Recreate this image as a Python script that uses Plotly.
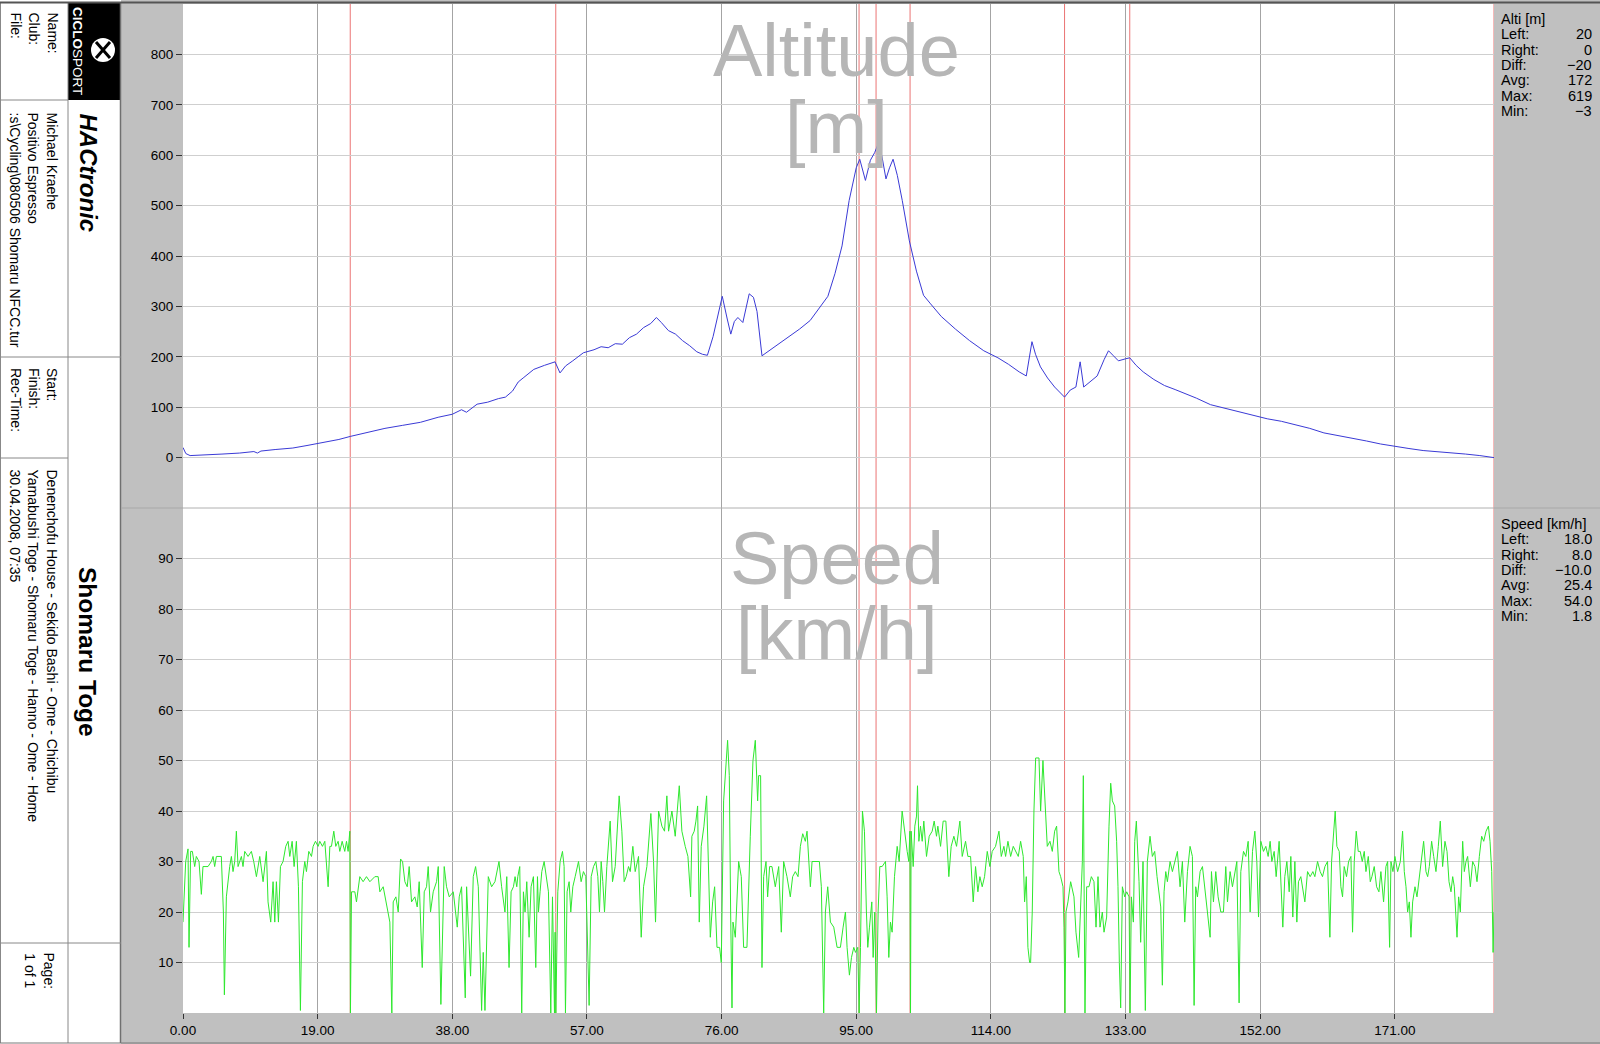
import plotly.graph_objects as go

# ---------------- data ----------------
altitude_profile = [
    (0.0, 20), (0.4, 8), (1.0, 4), (3.0, 6), (5.5, 7), (8.0, 9), (10.0, 12), (10.5, 9), (11.0, 13),
    (13.0, 16), (15.5, 19), (17.5, 24), (20.0, 30), (22.0, 36), (23.6, 42), (26.0, 50), (28.5, 58),
    (31.0, 64), (33.5, 70), (36.0, 80), (38.0, 86), (39.3, 95), (40.0, 90), (41.5, 106), (43.0, 110),
    (44.5, 117), (45.5, 120), (46.5, 132), (47.3, 150), (48.0, 158), (49.5, 175), (51.0, 183),
    (52.5, 190), (53.2, 168), (54.0, 182), (55.0, 192), (56.5, 208), (58.0, 214), (59.0, 220),
    (60.0, 218), (61.0, 226), (62.0, 225), (63.0, 238), (64.0, 245), (65.0, 258), (66.0, 266),
    (66.8, 278), (67.5, 268), (68.5, 252), (69.5, 245), (70.5, 232), (71.5, 222), (72.5, 210),
    (73.3, 205), (74.0, 203), (74.8, 240), (75.5, 280), (76.1, 320), (76.8, 275), (77.3, 245),
    (77.8, 270), (78.3, 278), (79.0, 268), (79.5, 300), (79.9, 325), (80.5, 318), (81.0, 290),
    (81.7, 202), (83.0, 215), (85.0, 236), (87.0, 255), (88.5, 272), (90.0, 300), (91.0, 320),
    (92.0, 365), (93.0, 420), (94.0, 510), (95.0, 575), (95.5, 592), (96.3, 550), (97.0, 590),
    (97.6, 605), (98.0, 619), (98.6, 600), (99.2, 553), (99.7, 575), (100.2, 592), (100.8, 560),
    (101.5, 510), (102.5, 430), (103.5, 370), (104.5, 322), (105.5, 305), (107.0, 280), (109.0, 255),
    (111.0, 232), (113.0, 212), (115.0, 198), (116.5, 185), (118.0, 170), (119.0, 162), (119.8, 230),
    (120.3, 205), (121.0, 180), (122.0, 158), (123.0, 140), (124.4, 120), (125.2, 134), (126.0, 140),
    (126.6, 190), (127.1, 140), (128.0, 150), (129.0, 162), (130.0, 195), (130.6, 212), (131.3, 202),
    (132.0, 192), (133.0, 196), (133.6, 198), (134.5, 183), (135.5, 170), (137.0, 155), (138.5, 143),
    (140.0, 135), (141.5, 127), (143.0, 118), (145.0, 105), (147.0, 98), (149.0, 91), (151.0, 83),
    (153.0, 77), (155.0, 72), (157.0, 65), (159.0, 58), (161.0, 49), (163.0, 44), (165.0, 39),
    (167.0, 33), (169.0, 27), (171.0, 22), (173.0, 18), (175.0, 14), (177.0, 12), (179.0, 9),
    (181.0, 7), (183.0, 4), (185.0, 0),
]

speed_profile = [
    (0.00, 18), (0.38, 30), (0.71, 32.5), (0.85, 13), (1.08, 32), (1.32, 32), (1.65, 29), (1.88, 31),
    (2.26, 30), (2.59, 23.5), (2.82, 29), (3.53, 29), (4.00, 30), (4.24, 31), (4.47, 29), (4.71, 31),
    (5.41, 31), (5.70, 20), (5.84, 3.6), (6.12, 23), (6.59, 29), (6.83, 31), (7.06, 28), (7.30, 30),
    (7.53, 36), (7.77, 29), (8.24, 31), (8.47, 29), (8.71, 32), (9.18, 31), (9.65, 32), (9.98, 30),
    (10.36, 27), (10.83, 31), (11.30, 26), (11.77, 32), (12.00, 22), (12.38, 18), (12.71, 26),
    (12.95, 18), (13.18, 26), (13.47, 18), (13.75, 29), (14.12, 30), (14.50, 33), (14.83, 34),
    (15.07, 31), (15.40, 34), (15.68, 29), (16.00, 34), (16.29, 25), (16.57, 0.5), (16.85, 26),
    (17.18, 30), (17.42, 28), (17.75, 32), (18.13, 31), (18.36, 33), (18.69, 34), (19.07, 33),
    (19.30, 34), (19.68, 33), (20.01, 34), (20.48, 25), (20.72, 33), (20.95, 33), (21.28, 36),
    (21.56, 33), (21.89, 34), (22.13, 32), (22.46, 34), (22.83, 32), (23.07, 34), (23.30, 32),
    (23.54, 36), (23.63, 0), (23.78, 24), (24.25, 24), (24.48, 22), (24.95, 27), (25.42, 26),
    (25.89, 27), (26.37, 26), (27.07, 27), (27.54, 27), (27.78, 24), (28.25, 25), (28.63, 22),
    (28.95, 20), (29.19, 18), (29.47, 0), (29.66, 22), (30.04, 23), (30.37, 20), (30.70, 30.5),
    (30.98, 30), (31.31, 26), (31.64, 25), (31.92, 29), (32.25, 22), (32.72, 23), (33.05, 21),
    (33.33, 26), (33.76, 9), (34.04, 24), (34.37, 25), (34.60, 29), (34.93, 20), (35.31, 24),
    (35.78, 26), (36.02, 29), (36.39, 1.7), (36.86, 29), (37.19, 25), (37.57, 23), (38.14, 24),
    (38.70, 17), (38.98, 23), (39.31, 25), (39.64, 12.6), (39.83, 3), (40.02, 25), (40.58, 7.3),
    (40.96, 27), (41.29, 29), (41.67, 25), (42.14, 0.5), (42.37, 12), (42.61, 0.5), (43.08, 27),
    (43.55, 25), (44.02, 26), (44.59, 30), (44.96, 25), (45.43, 20),
    (45.69, 27), (46.01, 9), (46.30, 24), (46.63, 25), (46.86, 27), (47.10, 25), (47.24, 27),
    (47.52, 29), (47.80, 0), (48.04, 24), (48.27, 20), (48.51, 26), (48.84, 15), (49.12, 25),
    (49.45, 27), (49.78, 9), (50.02, 27), (50.16, 20), (50.39, 24), (50.63, 28), (50.96, 30),
    (51.29, 27), (51.57, 24), (51.90, 0), (52.14, 23), (52.42, 0), (52.51, 16), (52.61, 0),
    (52.89, 24), (53.22, 30), (53.55, 32), (53.78, 29), (53.97, 0), (54.20, 24), (54.49, 26),
    (54.72, 20), (55.01, 25), (55.34, 27), (55.81, 30), (56.18, 26), (56.51, 28), (56.84, 27),
    (57.13, 12), (57.31, 1.5), (57.60, 27), (57.93, 29), (58.26, 30), (58.54, 27), (58.77, 20),
    (59.01, 30), (59.24, 26), (59.48, 20), (59.81, 29), (60.28, 38), (60.61, 26), (60.99, 29),
    (61.55, 43), (61.93, 36), (62.26, 26), (62.54, 27), (62.87, 29), (63.11, 28), (63.48, 33),
    (63.81, 28), (64.28, 31), (64.66, 15), (64.99, 25), (65.46, 29), (66.02, 39.5), (66.40, 30),
    (66.68, 18), (67.11, 40), (67.58, 37), (67.95, 36), (68.28, 43), (68.52, 36), (68.99, 40),
    (69.46, 35), (70.03, 45), (70.40, 36), (70.87, 33), (71.25, 31), (71.63, 23), (71.81, 35),
    (72.14, 36), (72.38, 38), (72.62, 41), (72.85, 18), (73.13, 33), (73.51, 37), (73.89, 43),
    (74.17, 30), (74.41, 15), (74.74, 22), (75.02, 25), (75.35, 13), (75.72, 13), (75.96, 10),
    (76.29, 42), (76.85, 54), (77.09, 47), (77.28, 20), (77.47, 1), (77.61, 18), (77.94, 15),
    (78.41, 30), (78.78, 27), (79.11, 13), (79.58, 13), (80.05, 35), (80.43, 50), (80.76, 54),
    (81.09, 42), (81.23, 47), (81.51, 47), (81.70, 9), (81.94, 27), (82.27, 30), (82.50, 23),
    (82.78, 29), (83.11, 29), (83.58, 25), (84.06, 29), (84.43, 16), (84.76, 30), (85.23, 27),
    (85.70, 23), (86.03, 27), (86.41, 28), (86.79, 27), (87.12, 33), (87.45, 35.5), (87.82, 34),
    (88.06, 36), (88.53, 25), (88.77, 30), (89.24, 30), (89.80, 30), (90.08, 25), (90.41, 0),
    (90.65, 20), (90.98, 25),
    (91.36, 18), (91.83, 17), (92.30, 13), (92.77, 13), (93.15, 17), (93.48, 20), (93.71, 13),
    (94.04, 7.5), (94.33, 11), (94.66, 13), (94.89, 12), (95.22, 13), (95.41, 0), (95.60, 13),
    (95.88, 40), (96.16, 36), (96.44, 20), (96.63, 13), (96.87, 17), (97.20, 22), (97.39, 11),
    (97.62, 20), (97.86, 0), (98.09, 20), (98.33, 29), (98.66, 29), (99.13, 30), (99.36, 23),
    (99.60, 11), (99.83, 18), (100.07, 16), (100.40, 27), (100.78, 33), (101.06, 30), (101.48, 40),
    (101.81, 36), (102.19, 32), (102.42, 30), (102.57, 36), (102.66, 0), (102.75, 36), (103.04, 29),
    (103.27, 37), (103.51, 39), (103.65, 45), (103.84, 34), (104.07, 37), (104.31, 34), (104.54, 38),
    (104.92, 31), (105.30, 35), (105.72, 36), (106.00, 38), (106.33, 35), (106.52, 37), (106.90, 33),
    (107.27, 38), (107.65, 38), (108.07, 27), (108.40, 33), (108.78, 35), (109.16, 33), (109.63, 38),
    (109.96, 31), (110.43, 34), (110.76, 31), (111.14, 31), (111.51, 22), (111.84, 29), (112.17, 24),
    (112.45, 27), (112.78, 25), (113.11, 27), (113.49, 32), (113.86, 29), (114.19, 32), (114.66, 33),
    (115.14, 36), (115.47, 31), (115.84, 33), (116.08, 31), (116.41, 34), (116.79, 31), (117.16, 33),
    (117.49, 32), (117.87, 31), (118.20, 34), (118.57, 31), (118.76, 22), (119.00, 27), (119.23, 13),
    (119.47, 10), (119.61, 10), (119.84, 20), (120.08, 40), (120.32, 50.5), (120.79, 50.5),
    (121.02, 40), (121.35, 50), (121.73, 40), (121.96, 33), (122.34, 34), (122.67, 32), (123.00, 36),
    (123.28, 37), (123.61, 28), (123.85, 27), (124.18, 25), (124.32, 17), (124.46, 0), (124.60, 20),
    (124.88, 22), (125.26, 26), (125.73, 23), (126.01, 16), (126.39, 11), (126.67, 20), (126.91, 30),
    (127.05, 47), (127.28, 0), (127.52, 25), (127.85, 25), (128.18, 27), (128.55, 26), (128.84, 17),
    (129.12, 27), (129.40, 17), (129.73, 20), (129.97, 16), (130.34, 19), (130.67, 37), (130.91, 45.5),
    (131.15, 42), (131.47, 41), (131.75, 34), (131.94, 25), (132.13, 10), (132.32, 1), (132.56, 25),
    (132.89, 23), (133.17, 24), (133.50, 23), (133.64, 0), (133.83, 23), (134.11, 18), (134.30, 34),
    (134.53, 38), (134.91, 26), (135.14, 14), (135.47, 30), (135.80, 0.5), (136.08, 30), (136.46, 35),
    (136.79, 31), (137.12, 32), (137.45, 27),
    (137.97, 21), (138.20, 5.5), (138.44, 24), (138.68, 28), (138.91, 26), (139.29, 30), (139.62, 28),
    (139.95, 30), (140.32, 32), (140.70, 25), (141.03, 30), (141.36, 18), (141.74, 28), (142.11, 33),
    (142.44, 31), (142.68, 1.5), (142.91, 25), (143.15, 23), (143.53, 28), (143.86, 29), (144.19, 24),
    (144.56, 20), (144.94, 15), (145.13, 28), (145.41, 22), (145.74, 28), (146.07, 23), (146.45, 20),
    (146.82, 20), (147.15, 29), (147.39, 22), (147.76, 28), (148.09, 25), (148.42, 28), (148.71, 30),
    (149.03, 2), (149.27, 28), (149.65, 32), (149.98, 31), (150.31, 34), (150.59, 20), (150.92, 32),
    (151.25, 36), (151.53, 30), (151.77, 19), (152.10, 34), (152.47, 32), (152.80, 33), (153.13, 31),
    (153.41, 34), (153.65, 30), (153.98, 32), (154.26, 27), (154.68, 34), (154.92, 26), (155.20, 17),
    (155.48, 27), (155.77, 30), (156.10, 24), (156.33, 31), (156.61, 19), (156.90, 30), (157.18, 18),
    (157.41, 26), (157.74, 27), (158.07, 24), (158.31, 22), (158.69, 28), (159.06, 27), (159.44, 28),
    (159.72, 27), (160.10, 30), (160.47, 28), (160.80, 27), (161.14, 29), (161.51, 30), (161.84, 15),
    (162.08, 30), (162.36, 35), (162.59, 40), (162.83, 33), (163.16, 32), (163.39, 25), (163.63, 23),
    (163.86, 29), (164.19, 27), (164.48, 30), (164.81, 31), (165.04, 16), (165.28, 30), (165.56, 36),
    (165.84, 32), (166.12, 32), (166.41, 30), (166.69, 32), (166.93, 28), (167.26, 31), (167.54, 26),
    (167.77, 27), (168.10, 29), (168.43, 25), (168.76, 24), (169.04, 28), (169.42, 22), (169.75, 29),
    (169.99, 30), (170.27, 13), (170.46, 30), (170.74, 28), (171.02, 31), (171.40, 28), (171.78, 30),
    (172.10, 36), (172.34, 28), (172.58, 25), (172.81, 20), (173.05, 22), (173.28, 15), (173.52, 22),
    (173.85, 25), (174.13, 23), (174.46, 27), (174.79, 30), (175.07, 34), (175.40, 28), (175.64, 27),
    (175.87, 29), (176.20, 34), (176.49, 31), (176.81, 28), (177.14, 33), (177.42, 38), (177.75, 29),
    (178.08, 34), (178.37, 32), (178.65, 26), (178.93, 24), (179.17, 27), (179.40, 25), (179.59, 20),
    (179.78, 15), (180.01, 23), (180.25, 20), (180.58, 34), (180.81, 28), (181.05, 30), (181.28, 31),
    (181.66, 25), (181.99, 30), (182.32, 29), (182.60, 26), (182.93, 31), (183.26, 35), (183.55, 34),
    (183.88, 36), (184.21, 37), (184.44, 34), (184.68, 28), (184.87, 12), (185.00, 20),
]

lap_markers_km = [23.6, 52.6, 95.4, 97.8, 102.6, 124.4, 133.6, 185.0]
x_ticks = [0, 19, 38, 57, 76, 95, 114, 133, 152, 171]
alt_ticks = [0, 100, 200, 300, 400, 500, 600, 700, 800]
speed_ticks = [10, 20, 30, 40, 50, 60, 70, 80, 90]

alti_stats = [("Left:", "20"), ("Right:", "0"), ("Diff:", "\u221220"), ("Avg:", "172"), ("Max:", "619"), ("Min:", "\u22123")]
speed_stats = [("Left:", "18.0"), ("Right:", "8.0"), ("Diff:", "\u221210.0"), ("Avg:", "25.4"), ("Max:", "54.0"), ("Min:", "1.8")]

info_labels_1 = ["Name:", "Club:", "File:"]
info_values_1 = ["Michael Kraehe", "Positivo Espresso", ":s\\Cycling\\080506 Shomaru NFCC.tur"]
info_labels_2 = ["Start:", "Finish:", "Rec-Time:"]
info_values_2 = ["Denenchofu House - Sekido Bashi - Ome - Chichibu",
                 "Yamabushi Toge - Shomaru Toge - Hanno - Ome - Home",
                 "30.04.2008, 07:35"]
tour_title = "Shomaru Toge"

# ---------------- figure ----------------
W, H = 1600, 1044
def px(x):
    return x / W
def py(y):
    return 1 - y / H

FONT = "Liberation Sans, Arial, sans-serif"
alt_km = [p[0] for p in altitude_profile]
alt_m = [p[1] for p in altitude_profile]
spd_km = [p[0] for p in speed_profile]
spd_v = [p[1] for p in speed_profile]

fig = go.Figure()
fig.add_trace(go.Scatter(x=alt_km, y=alt_m, mode="lines", xaxis="x", yaxis="y",
                         line=dict(color="#3a3ad6", width=1), hoverinfo="skip", showlegend=False))
fig.add_trace(go.Scatter(x=spd_km, y=spd_v, mode="lines", xaxis="x", yaxis="y2",
                         line=dict(color="#2ee82e", width=1), hoverinfo="skip", showlegend=False))

shapes = []
shapes.append(dict(type="rect", xref="paper", yref="paper", x0=0, x1=px(121), y0=0, y1=1,
                   fillcolor="white", line=dict(width=0), layer="below"))
shapes.append(dict(type="rect", xref="paper", yref="paper", x0=px(68), x1=px(120), y0=py(100), y1=py(3),
                   fillcolor="black", line=dict(width=0), layer="below"))
shapes.append(dict(type="circle", xref="paper", yref="paper", x0=px(91), x1=px(115), y0=py(62), y1=py(38),
                   fillcolor="white", line=dict(width=0), layer="above"))
for (a, b, c, d) in [(96, 42, 110, 58), (110, 42, 96, 58)]:
    shapes.append(dict(type="line", xref="paper", yref="paper", x0=px(a), x1=px(c), y0=py(b), y1=py(d),
                       line=dict(color="black", width=3)))

def hline(y, x0, x1, color="#888888", width=1):
    shapes.append(dict(type="line", xref="paper", yref="paper", x0=px(x0), x1=px(x1), y0=py(y), y1=py(y),
                       line=dict(color=color, width=width)))
def vline(x, y0, y1, color="#888888", width=1):
    shapes.append(dict(type="line", xref="paper", yref="paper", x0=px(x), x1=px(x), y0=py(y0), y1=py(y1),
                       line=dict(color=color, width=width)))

vline(68, 3, 1043)
vline(120.5, 3, 1043, color="#707070", width=1.5)
vline(0.5, 3, 1043)
hline(100, 0, 68)
hline(357, 0, 121)
hline(458, 0, 68)
hline(943, 0, 121)
hline(2.5, 0, 1600, color="#555555", width=2)
hline(1043, 0, 1600, color="#777777", width=1)
hline(508, 121, 183, color="#a8a8a8")
hline(508, 183, 1494, color="#b0b0b0")
hline(508, 1494, 1600, color="#a8a8a8")

for km in lap_markers_km:
    shapes.append(dict(type="line", xref="x", yref="paper", x0=km, x1=km, y0=py(1013), y1=py(4),
                       line=dict(color="rgba(228,70,70,0.75)", width=1), layer="between"))

annotations = []
def ann(text, x, y, size=13, xanchor="center", yanchor="middle", angle=0, color="black", align="left", **kw):
    annotations.append(dict(text=text, x=px(x), y=py(y), xref="paper", yref="paper", showarrow=False,
                            xanchor=xanchor, yanchor=yanchor, textangle=angle, align=align,
                            font=dict(family=FONT, size=size, color=color), **kw))

ann("Altitude", 837, 51, size=74, color="#b6b6b6")
ann("[m]", 837, 127, size=74, color="#b6b6b6")
ann("Speed", 837, 558, size=74, color="#b6b6b6")
ann("[km/h]", 837, 633, size=74, color="#b6b6b6")

STAT = 14.5
ann("Alti [m]", 1499, 19, size=STAT, xanchor="left")
for i, (lab, val) in enumerate(alti_stats):
    ann(lab, 1499, 34.3 + 15.3 * i, size=STAT, xanchor="left")
    ann(val, 1594, 34.3 + 15.3 * i, size=STAT, xanchor="right")
ann("Speed [km/h]", 1499, 524, size=STAT, xanchor="left")
for i, (lab, val) in enumerate(speed_stats):
    ann(lab, 1499, 539.3 + 15.3 * i, size=STAT, xanchor="left")
    ann(val, 1594, 539.3 + 15.3 * i, size=STAT, xanchor="right")

ann("<br>".join(info_labels_1), 34, 10, size=14, angle=90, yanchor="top")
ann("<br>".join(info_values_1), 34, 110, size=14, angle=90, yanchor="top")
ann("<br>".join(info_labels_2), 34, 366, size=14, angle=90, yanchor="top")
ann("<br>".join(info_values_2), 34, 467, size=14, angle=90, yanchor="top")
ann("Page:<br>1 of 1", 40, 950, size=14, angle=90, yanchor="top", align="center")
ann("<b>CICLO</b>SPORT", 77, 51, size=13.5, angle=90, color="white")
ann("<b><i>HACtronic</i></b>", 88, 111, size=24, angle=90, yanchor="top")
ann("<b>" + tour_title + "</b>", 88, 652, size=24.5, angle=90)

fig.update_layout(
    width=W, height=H, margin=dict(l=0, r=0, t=0, b=0, autoexpand=False),
    autosize=False,
    paper_bgcolor="#c0c0c0", plot_bgcolor="white",
    font=dict(family=FONT, size=13, color="black"),
    showlegend=False,
    xaxis=dict(domain=[px(183), px(1494)], range=[0, 185], anchor="y2", automargin=False,
               tickmode="array", tickvals=x_ticks, ticktext=[f"{v:.2f}" for v in x_ticks],
               showgrid=True, gridcolor="#a4a4a4", gridwidth=1, zeroline=False, showline=False,
               ticks="outside", ticklen=5, tickcolor="#333333",
               tickfont=dict(size=13.5, color="black")),
    yaxis=dict(domain=[py(508), py(4)], range=[-100, 900], anchor="x", automargin=False,
               tickmode="array", tickvals=alt_ticks, showgrid=True, gridcolor="#cfcfcf",
               zeroline=False, showline=False, ticks="outside", ticklen=6, tickcolor="#333333",
               tickfont=dict(size=13.5, color="black")),
    yaxis2=dict(domain=[py(1013), py(508)], range=[0, 100], anchor="x", automargin=False,
                tickmode="array", tickvals=speed_ticks, showgrid=True, gridcolor="#cfcfcf",
                zeroline=False, showline=False, ticks="outside", ticklen=6, tickcolor="#333333",
                tickfont=dict(size=13.5, color="black")),
    shapes=shapes, annotations=annotations,
)

fig.write_html(
    "out.html",
    config={"responsive": False, "displayModeBar": False},
    post_script="document.body.style.margin='0';document.body.style.overflow='hidden';"
                "document.documentElement.style.overflow='hidden';",
)
